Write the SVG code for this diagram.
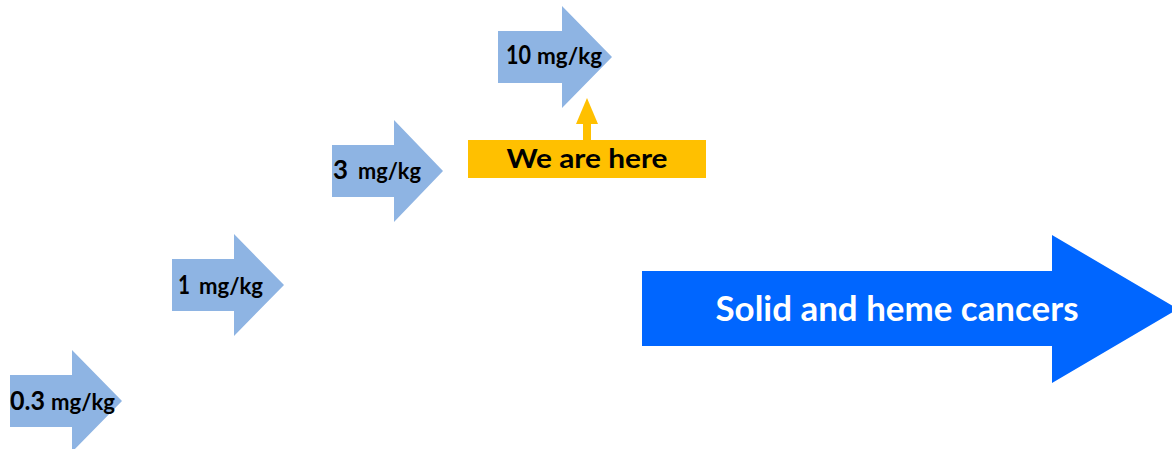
<svg xmlns="http://www.w3.org/2000/svg" width="1172" height="449" viewBox="0 0 1172 449">
<style>
.dose{fill:#8EB4E3}
.t{font-family:Lato,"Liberation Sans",sans-serif;font-weight:bold;fill:#000}
.num{font-size:26px}
.unit{font-size:22px}
.big{fill:#0066FF}
.bigt{font-family:Lato,"Liberation Sans",sans-serif;font-weight:bold;font-size:34px;fill:#fff}
.here{fill:#FFC000}
</style>
<rect width="1172" height="449" fill="#fff"/>
<g id="dose-03">
<polygon class="dose" points="10,375 72,375 72,350 122,401 72,452 72,427 10,427"/>
<text class="t" y="410"><tspan class="num" x="10" textLength="35" lengthAdjust="spacingAndGlyphs">0.3</tspan><tspan class="unit" x="51" textLength="64" lengthAdjust="spacingAndGlyphs">mg/kg</tspan></text>
</g>
<g id="dose-1">
<polygon class="dose" points="172,259 234,259 234,234 284,285 234,336 234,311 172,311"/>
<text class="t" y="294"><tspan class="num" x="178" textLength="12" lengthAdjust="spacingAndGlyphs">1</tspan><tspan class="unit" x="199" textLength="64" lengthAdjust="spacingAndGlyphs">mg/kg</tspan></text>
</g>
<g id="dose-3">
<polygon class="dose" points="332,145 394,145 394,120 443,171 394,222 394,197 332,197"/>
<text class="t" y="179"><tspan class="num" x="333" textLength="15" lengthAdjust="spacingAndGlyphs">3</tspan><tspan class="unit" x="358" textLength="63" lengthAdjust="spacingAndGlyphs">mg/kg</tspan></text>
</g>
<g id="dose-10">
<polygon class="dose" points="498,31 562,31 562,6 612,57 562,108 562,83 498,83"/>
<text class="t" y="64"><tspan class="num" x="506" textLength="25" lengthAdjust="spacingAndGlyphs">10</tspan><tspan class="unit" x="537" textLength="65" lengthAdjust="spacingAndGlyphs">mg/kg</tspan></text>
</g>
<g id="we-are-here">
<rect class="here" x="468" y="140" width="238" height="38"/>
<text class="t" x="587" y="168" font-size="27" text-anchor="middle" textLength="161" lengthAdjust="spacingAndGlyphs">We are here</text>
</g>
<g id="connectors">
<rect class="here" x="583" y="123" width="8" height="18"/>
<polygon class="here" points="576,124 598,124 587,98"/>
</g>
<g id="solid-heme">
<polygon class="big" points="642,271 1052,271 1052,235 1178,309 1052,383 1052,346 642,346"/>
<text class="bigt" x="897" y="321" text-anchor="middle" textLength="363" lengthAdjust="spacingAndGlyphs">Solid and heme cancers</text>
</g>
</svg>
